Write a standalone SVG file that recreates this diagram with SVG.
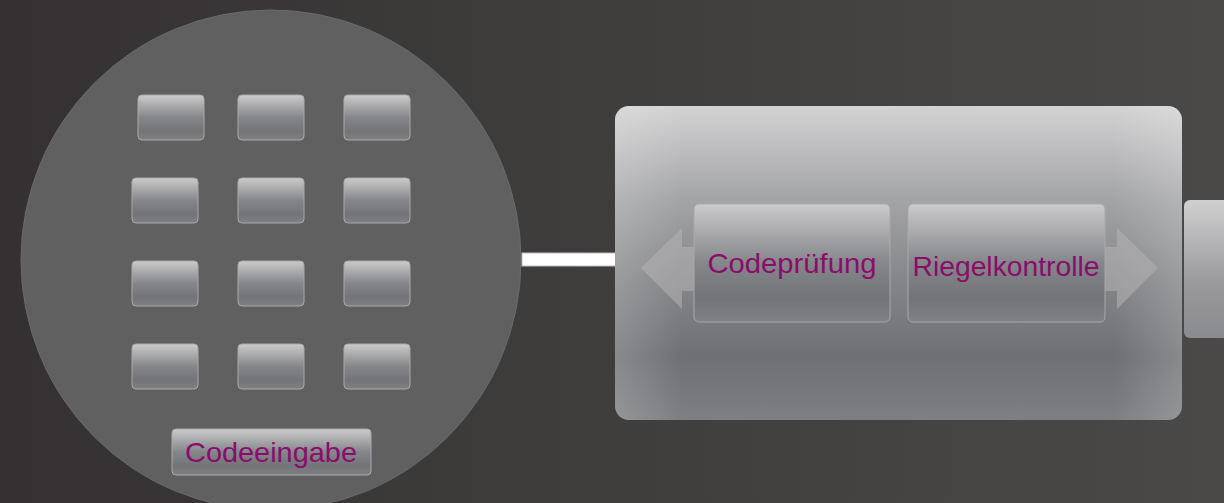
<svg xmlns="http://www.w3.org/2000/svg" width="1224" height="503" viewBox="0 0 1224 503">
  <defs>
    <linearGradient id="bg" x1="0" y1="0" x2="1" y2="0">
      <stop offset="0" stop-color="#353132"/>
      <stop offset="1" stop-color="#4b4948"/>
    </linearGradient>
    <linearGradient id="key" x1="0" y1="0" x2="0" y2="1">
      <stop offset="0" stop-color="#cbcbcc"/>
      <stop offset="0.5" stop-color="#85868a"/>
      <stop offset="0.8" stop-color="#737478"/>
      <stop offset="1" stop-color="#7f8083"/>
    </linearGradient>
    <linearGradient id="edgeGlow" x1="0" y1="0" x2="1" y2="0">
      <stop offset="0" stop-color="#ffffff" stop-opacity="0.18"/>
      <stop offset="0.12" stop-color="#ffffff" stop-opacity="0"/>
      <stop offset="0.88" stop-color="#ffffff" stop-opacity="0"/>
      <stop offset="1" stop-color="#ffffff" stop-opacity="0.18"/>
    </linearGradient>
    <linearGradient id="big" x1="0" y1="0" x2="0" y2="1">
      <stop offset="0" stop-color="#d3d3d4"/>
      <stop offset="0.3" stop-color="#a3a4a6"/>
      <stop offset="0.55" stop-color="#858689"/>
      <stop offset="0.8" stop-color="#6f7074"/>
      <stop offset="1" stop-color="#7e7f82"/>
    </linearGradient>
    <linearGradient id="side" x1="0" y1="0" x2="0" y2="1">
      <stop offset="0" stop-color="#d0d0d1"/>
      <stop offset="0.6" stop-color="#99999c"/>
      <stop offset="1" stop-color="#8a8b8e"/>
    </linearGradient>
    <style>
      .key { fill: url(#key); stroke: #a9a9ab; stroke-width: 1; }
      .glow { fill: url(#edgeGlow); }
      .lbl { font-family: "Liberation Sans", Arial, sans-serif; font-size: 28px; fill: #8c0c6c; text-anchor: middle; }
      .arrow { fill: #b4b5b7; fill-opacity: 0.55; }
    </style>
  </defs>

  <rect x="0" y="0" width="1224" height="503" fill="url(#bg)"/>

  <g id="keypad">
    <circle cx="271" cy="260" r="250" fill="#616061" stroke="#6b6a6b" stroke-width="1"/>
    <g id="keys">
      <rect class="key" x="138" y="95" width="66" height="45" rx="4"/>
      <rect class="key" x="238" y="95" width="66" height="45" rx="4"/>
      <rect class="key" x="344" y="95" width="66" height="45" rx="4"/>
      <rect class="key" x="132" y="178" width="66" height="45" rx="4"/>
      <rect class="key" x="238" y="178" width="66" height="45" rx="4"/>
      <rect class="key" x="344" y="178" width="66" height="45" rx="4"/>
      <rect class="key" x="132" y="261" width="66" height="45" rx="4"/>
      <rect class="key" x="238" y="261" width="66" height="45" rx="4"/>
      <rect class="key" x="344" y="261" width="66" height="45" rx="4"/>
      <rect class="key" x="132" y="344" width="66" height="45" rx="4"/>
      <rect class="key" x="238" y="344" width="66" height="45" rx="4"/>
      <rect class="key" x="344" y="344" width="66" height="45" rx="4"/>
    </g>
    <g id="codeeingabe">
      <rect class="key" x="172" y="429" width="199" height="46" rx="4"/>
      <text class="lbl" x="271" y="462" textLength="172" lengthAdjust="spacingAndGlyphs">Codeeingabe</text>
    </g>
  </g>

  <g id="connectors">
    <rect x="522" y="253" width="94" height="13" fill="#ffffff" stroke="#bdbdbd" stroke-width="1"/>
  </g>

  <g id="controller">
    <rect x="615" y="106" width="567" height="314" rx="14" fill="url(#big)"/>
    <rect class="glow" x="615" y="106" width="567" height="314" rx="14"/>
    <path class="arrow" d="M641,268 L682,228 L682,247 L694,247 L694,291 L682,291 L682,309 Z"/>
    <path class="arrow" d="M1158,268 L1117,228 L1117,247 L1105,247 L1105,291 L1117,291 L1117,309 Z"/>
    <g id="codepruefung">
      <rect class="key" x="694" y="204" width="196" height="118" rx="5"/>
      <text class="lbl" x="792" y="273" textLength="169" lengthAdjust="spacingAndGlyphs">Codeprüfung</text>
    </g>
    <g id="riegelkontrolle">
      <rect class="key" x="908" y="204" width="197" height="118" rx="5"/>
      <text class="lbl" x="1006" y="276" textLength="187" lengthAdjust="spacingAndGlyphs">Riegelkontrolle</text>
    </g>
  </g>

  <g id="riegel">
    <rect x="1184" y="200" width="60" height="138" rx="6" fill="url(#side)"/>
  </g>
</svg>
